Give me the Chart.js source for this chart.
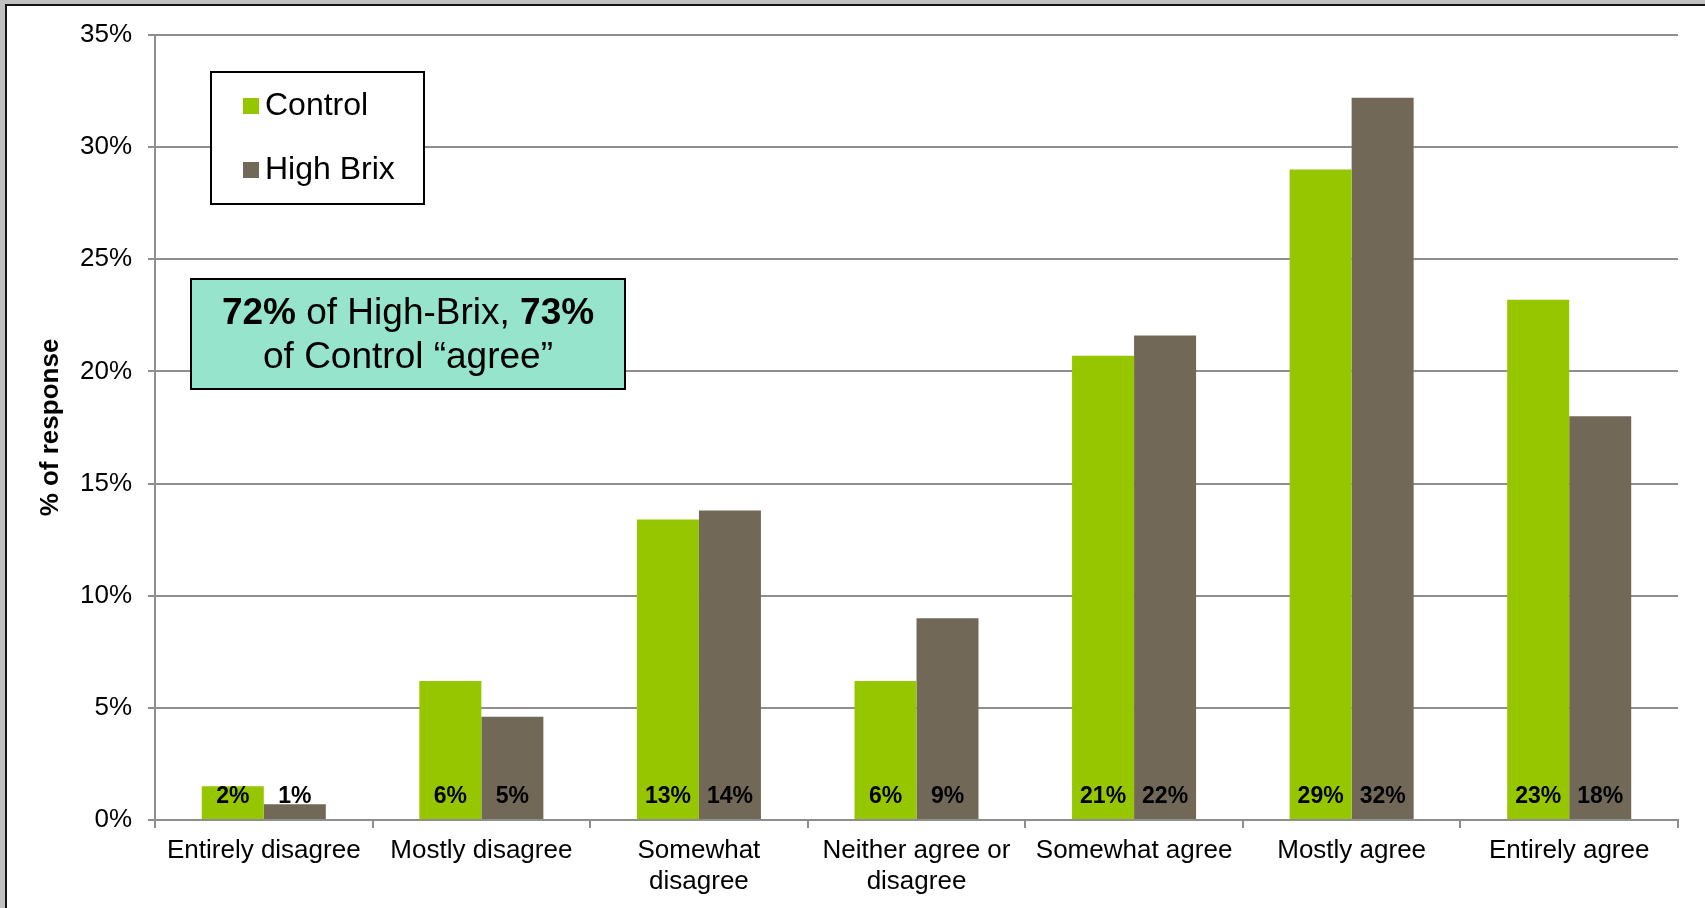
<!DOCTYPE html>
<html>
<head>
<meta charset="utf-8">
<script src="https://cdn.jsdelivr.net/npm/chart.js@4"></script>
<style>
  html, body { margin: 0; padding: 0; background: #c0c0c0; }
  #wrap { position: relative; width: 1705px; height: 908px; }
</style>
</head>
<body>
<div id="wrap"><canvas id="grafico"></canvas></div>
<script>
// dados (% de resposta)
const categorias = [
  'Entirely disagree', 'Mostly disagree', ['Somewhat', 'disagree'],
  ['Neither agree or', 'disagree'], 'Somewhat agree', 'Mostly agree', 'Entirely agree'
];
const controle = [1.5, 6.2, 13.4, 6.2, 20.7, 29.0, 23.2];
const highBrix = [0.7, 4.6, 13.8, 9.0, 21.6, 32.2, 18.0];
const ticksY = [0, 5, 10, 15, 20, 25, 30, 35];
const notaNegrito1 = '72%';
const notaTexto1 = ' of High-Brix, ';
const notaNegrito2 = '73%';
const notaLinha2 = 'of Control \u201cagree\u201d';

const FONTE = "'Liberation Sans', Arial, sans-serif";
const VERDE = '#95c600';
const TAUPE = '#726858';
const CINZA = '#8e8e8e';

// moldura cinza com borda preta
const moldura = {
  id: 'moldura',
  beforeDraw(chart) {
    const c = chart.ctx;
    c.save();
    c.fillStyle = '#c0c0c0';
    c.fillRect(0, 0, chart.width, chart.height);
    c.fillStyle = '#141414';
    c.fillRect(5, 4, chart.width, chart.height);
    c.fillStyle = '#ffffff';
    c.fillRect(7, 6, chart.width, chart.height);
    c.restore();
  }
};

// rótulos dos valores na base das barras
const rotulos = {
  id: 'rotulos',
  afterDatasetsDraw(chart) {
    const c = chart.ctx;
    const base = chart.scales.y.getPixelForValue(0);
    c.save();
    c.font = 'bold 23px ' + FONTE;
    c.fillStyle = '#000';
    c.textAlign = 'center';
    c.textBaseline = 'middle';
    chart.data.datasets.forEach((ds, i) => {
      chart.getDatasetMeta(i).data.forEach((el, j) => {
        c.fillText(Math.round(ds.data[j]) + '%', el.x, base - 23);
      });
    });
    c.restore();
  }
};

// legenda e caixa de nota
const caixas = {
  id: 'caixas',
  afterDraw(chart) {
    const c = chart.ctx;
    c.save();
    // legenda
    c.fillStyle = '#fff';
    c.fillRect(211, 72, 213, 132);
    c.strokeStyle = '#000';
    c.lineWidth = 2;
    c.strokeRect(211, 72, 213, 132);
    c.font = '32px ' + FONTE;
    c.textBaseline = 'middle';
    c.textAlign = 'left';
    chart.data.datasets.forEach((ds, i) => {
      const y = 106 + i * 64;
      c.fillStyle = ds.backgroundColor;
      c.fillRect(243, y - 8, 16, 16);
      c.fillStyle = '#000';
      c.fillText(ds.label, 265, y);
    });

    // nota
    c.fillStyle = '#96e4cb';
    c.fillRect(191, 279, 434, 110);
    c.strokeStyle = '#000';
    c.lineWidth = 2;
    c.strokeRect(191, 279, 434, 110);
    c.fillStyle = '#000';
    const negrito = 'bold 37px ' + FONTE;
    const normal = '37px ' + FONTE;
    c.font = negrito;
    const w1 = c.measureText(notaNegrito1).width;
    const w3 = c.measureText(notaNegrito2).width;
    c.font = normal;
    const w2 = c.measureText(notaTexto1).width;
    let x = 408 - (w1 + w2 + w3) / 2;
    const y1 = 314;
    c.font = negrito; c.fillText(notaNegrito1, x, y1); x += w1;
    c.font = normal; c.fillText(notaTexto1, x, y1); x += w2;
    c.font = negrito; c.fillText(notaNegrito2, x, y1);
    c.font = normal;
    c.textAlign = 'center';
    c.fillText(notaLinha2, 408, 358);
    c.restore();
  }
};

const ctx = document.getElementById('grafico').getContext('2d');
const grafico = new Chart(ctx, {
  type: 'bar',
  data: {
    labels: categorias,
    datasets: [
      { label: 'Control', data: controle, backgroundColor: VERDE },
      { label: 'High Brix', data: highBrix, backgroundColor: TAUPE }
    ]
  },
  options: {
    responsive: true,
    maintainAspectRatio: false,
    animation: false,
    layout: { padding: { top: 35, right: 27, bottom: 0, left: 0 } },
    categoryPercentage: 0.57,
    barPercentage: 1.0,
    plugins: {
      legend: { display: false },
      tooltip: { enabled: false }
    },
    scales: {
      x: {
        afterFit(s) { s.height = 88; },
        grid: { drawOnChartArea: false, drawTicks: true, tickLength: 8, color: CINZA, lineWidth: 2 },
        border: { display: true, color: CINZA, width: 2 },
        ticks: {
          color: '#000',
          font: { family: FONTE, size: 26, lineHeight: 1.17 },
          padding: 8,
          maxRotation: 0,
          autoSkip: false
        }
      },
      y: {
        min: 0,
        max: 35,
        afterFit(s) { s.width = 155; },
        afterBuildTicks(s) { s.ticks = ticksY.map(v => ({ value: v })); },
        grid: { color: CINZA, lineWidth: 2, tickLength: 7 },
        border: { display: true, color: CINZA, width: 2 },
        ticks: {
          color: '#000',
          font: { family: FONTE, size: 26 },
          padding: 16,
          callback: v => v + '%'
        },
        title: {
          display: true,
          text: '% of response',
          color: '#000',
          font: { family: FONTE, size: 26, weight: 'bold' },
          padding: { top: 35, bottom: 0 }
        }
      }
    }
  },
  plugins: [moldura, rotulos, caixas]
});
</script>
</body>
</html>
